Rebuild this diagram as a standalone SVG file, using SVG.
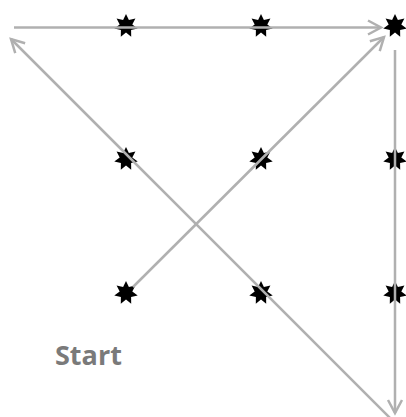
<svg xmlns="http://www.w3.org/2000/svg" width="406" height="417" viewBox="0 0 406 417">
<style>
.star{fill:#000}
.ln{stroke:#b0b0b0;stroke-width:2.5;fill:none}
.lbl{font-family:"Open Sans","Liberation Sans",sans-serif;font-weight:bold;font-size:27px;fill:#7a7a7a}
</style>
<defs>
<path id="s" d="M0,-12 L2.9,-5.9 L9.4,-7.5 L6.3,-1.4 L11.7,2.6 L5.1,4 L5.2,10.8 L0,6.6 L-5.2,10.8 L-5.1,4 L-11.7,2.6 L-6.3,-1.4 L-9.4,-7.5 L-2.9,-5.9 Z"/>
<marker id="a" markerUnits="userSpaceOnUse" markerWidth="20" markerHeight="20" refX="14" refY="8" orient="auto" viewBox="0 0 20 16">
<path d="M1,1 L14,8 L1,15" fill="none" stroke="#b0b0b0" stroke-width="2.5"/>
</marker>
</defs>
<g id="stars">
<g id="n1"><use href="#s" class="star" x="126" y="26"/></g>
<g id="n2"><use href="#s" class="star" x="261" y="26"/></g>
<g id="n3"><use href="#s" class="star" x="395" y="26"/></g>
<g id="n4"><use href="#s" class="star" x="126" y="159"/></g>
<g id="n5"><use href="#s" class="star" x="261" y="159"/></g>
<g id="n6"><use href="#s" class="star" x="395" y="159"/></g>
<g id="n7"><use href="#s" class="star" x="126" y="293"/></g>
<g id="n8"><use href="#s" class="star" x="261" y="293"/></g>
<g id="n9"><use href="#s" class="star" x="395" y="293"/></g>
</g>
<g id="connectors">
<line class="ln" x1="133" y1="287" x2="384" y2="37" marker-end="url(#a)"/>
<line class="ln" x1="395" y1="50" x2="395" y2="413" marker-end="url(#a)"/>
<line class="ln" x1="392" y1="420" x2="11" y2="39" marker-end="url(#a)"/>
<line class="ln" x1="14" y1="27.5" x2="381" y2="27.5" marker-end="url(#a)"/>
</g>
<g id="label"><text class="lbl" x="55" y="365">Start</text></g>
</svg>
